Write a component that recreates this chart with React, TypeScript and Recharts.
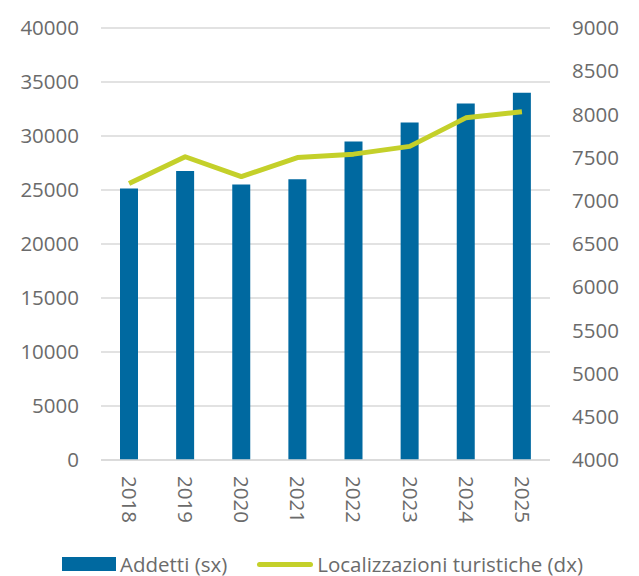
import { ComposedChart, Bar, Line, XAxis, YAxis, CartesianGrid, Legend } from "recharts";

const years = ["2018", "2019", "2020", "2021", "2022", "2023", "2024", "2025"];
const addetti = [25150, 26750, 25500, 26000, 29500, 31250, 33000, 34000];
const localizzazioni = [7200, 7510, 7280, 7500, 7540, 7630, 7960, 8030];
const leftTicks = [0, 5000, 10000, 15000, 20000, 25000, 30000, 35000, 40000];
const rightTicks = [4000, 4500, 5000, 5500, 6000, 6500, 7000, 7500, 8000, 8500, 9000];

const data = years.map((year, i) => ({
  year,
  addetti: addetti[i],
  localizzazioni: localizzazioni[i],
}));

const FONT = "'Open Sans', sans-serif";
const FS = 20.5;
const TEXT = "#6b6b6b";
const BLUE = "#0069a0";
const GREEN = "#c4d02a";

function YearTick(props: any) {
  const { x, y, payload } = props;
  return (
    <text
      transform={`translate(${x},${y}) rotate(90)`}
      x={8}
      y={0}
      dy="0.35em"
      textAnchor="start"
      fill={TEXT}
      fontSize={FS}
      fontFamily={FONT}
    >
      {payload.value}
    </text>
  );
}

function LegendBox() {
  return (
    <div
      style={{
        display: "flex",
        alignItems: "center",
        fontFamily: FONT,
        fontSize: FS,
        lineHeight: "20px",
        color: TEXT,
        paddingLeft: 62,
        height: 24,
      }}
    >
      <span style={{ display: "inline-block", width: 54, height: 14, background: BLUE, marginRight: 4 }} />
      <span>Addetti (sx)</span>
      <span
        style={{
          display: "inline-block",
          width: 56,
          height: 5,
          borderRadius: 3,
          background: GREEN,
          marginLeft: 30,
          marginRight: 4,
        }}
      />
      <span>Localizzazioni turistiche (dx)</span>
    </div>
  );
}

export default function App() {
  return (
    <div style={{ margin: "-8px -8px 0 -8px", width: 639, height: 576, background: "#fff" }}>
      <ComposedChart
        width={639}
        height={576}
        data={data}
        margin={{ top: 28, right: 0, left: 0, bottom: 0 }}
      >
        <CartesianGrid vertical={false} stroke="#d9d9d9" strokeWidth={1.5} yAxisId="left" />
        <XAxis
          dataKey="year"
          height={92}
          tickLine={false}
          axisLine={{ stroke: "#d9d9d9", strokeWidth: 1.5 }}
          tick={<YearTick />}
          interval={0}
        />
        <YAxis
          yAxisId="left"
          orientation="left"
          width={101}
          domain={[0, 40000]}
          ticks={leftTicks}
          tickLine={false}
          axisLine={false}
          tickMargin={16}
          tick={{ fill: TEXT, fontSize: FS, fontFamily: FONT }}
        />
        <YAxis
          yAxisId="right"
          orientation="right"
          width={89}
          domain={[4000, 9000]}
          ticks={rightTicks}
          tickLine={false}
          axisLine={false}
          tickMargin={16}
          tick={{ fill: TEXT, fontSize: FS, fontFamily: FONT, textAnchor: "start" }}
        />
        <Legend verticalAlign="bottom" height={24} content={<LegendBox />} />
        <Bar yAxisId="left" dataKey="addetti" name="Addetti (sx)" fill={BLUE} barSize={18} isAnimationActive={false} />
        <Line
          yAxisId="right"
          dataKey="localizzazioni"
          name="Localizzazioni turistiche (dx)"
          stroke={GREEN}
          strokeWidth={5}
          dot={false}
          strokeLinejoin="round"
          isAnimationActive={false}
        />
      </ComposedChart>
    </div>
  );
}
